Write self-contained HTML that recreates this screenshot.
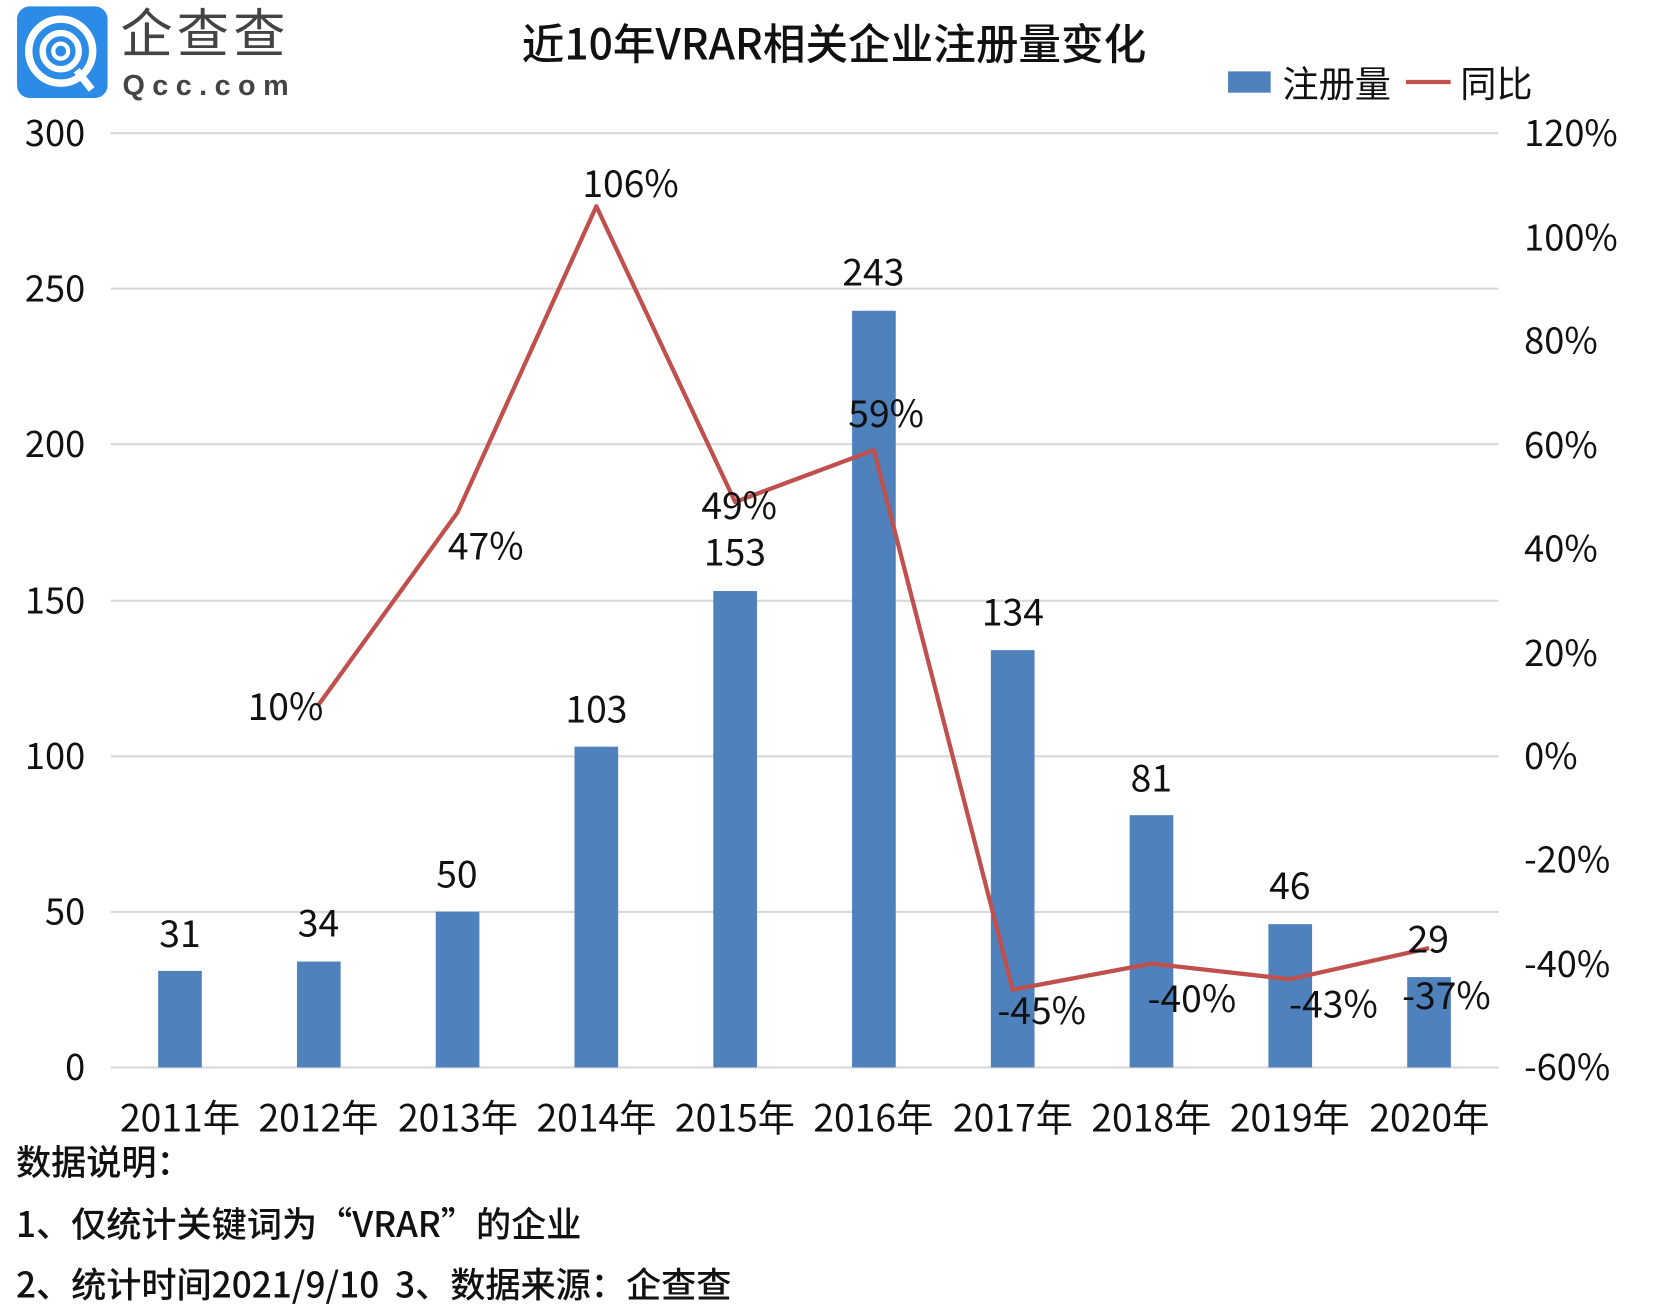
<!DOCTYPE html>
<html><head><meta charset="utf-8"><style>
html,body{margin:0;padding:0;background:#fff;}
svg{display:block;}
text{font-family:"Noto Sans CJK SC","Liberation Sans",sans-serif;fill:#111;}
</style></head><body>
<svg width="1669" height="1305" viewBox="0 0 1567 1225" preserveAspectRatio="none" xmlns="http://www.w3.org/2000/svg">
<rect x="16" y="6" width="85" height="86" rx="12" fill="#2b8be6"/>
<circle cx="57" cy="48" r="30" fill="none" stroke="#fff" stroke-width="7"/>
<circle cx="57" cy="48" r="17" fill="none" stroke="#fff" stroke-width="6"/>
<circle cx="57" cy="48" r="7" fill="none" stroke="#fff" stroke-width="4"/>
<line x1="72" y1="66" x2="86" y2="84" stroke="#fff" stroke-width="7"/>
<text x="113" y="49" font-size="49" style="fill:#444" letter-spacing="4">企查查</text>
<text x="115" y="89" font-size="27" font-weight="bold" style="fill:#444;font-family:'Liberation Sans',sans-serif" letter-spacing="7">Qcc.com</text>
<text x="783" y="56" font-size="40" text-anchor="middle" font-weight="500">近10年VRAR相关企业注册量变化</text>
<rect x="1153" y="67" width="40" height="20" fill="#4f81bd"/>
<text x="1204" y="91" font-size="34">注册量</text>
<line x1="1320" y1="77" x2="1362" y2="77" stroke="#c0504d" stroke-width="4"/>
<text x="1371" y="91" font-size="34">同比</text>
<g stroke="#d9d9d9" stroke-width="2">
<line x1="104" y1="125" x2="1407" y2="125"/>
<line x1="104" y1="271" x2="1407" y2="271"/>
<line x1="104" y1="417" x2="1407" y2="417"/>
<line x1="104" y1="564" x2="1407" y2="564"/>
<line x1="104" y1="710" x2="1407" y2="710"/>
<line x1="104" y1="856" x2="1407" y2="856"/>
<line x1="104" y1="1002" x2="1407" y2="1002"/>
</g>
<g font-size="34" text-anchor="end">
<text x="80" y="137">300</text><text x="80" y="283">250</text><text x="80" y="429">200</text>
<text x="80" y="576">150</text><text x="80" y="722">100</text><text x="80" y="868">50</text><text x="80" y="1014">0</text>
</g>
<g font-size="34">
<text x="1431" y="137">120%</text><text x="1431" y="235">100%</text><text x="1431" y="332">80%</text>
<text x="1431" y="430">60%</text><text x="1431" y="527">40%</text><text x="1431" y="625">20%</text>
<text x="1431" y="722">0%</text><text x="1431" y="819">-20%</text><text x="1431" y="917">-40%</text><text x="1431" y="1014">-60%</text>
</g>
<g fill="#4f81bd">
<rect x="148.5" y="911.4" width="41" height="90.6"/>
<rect x="278.8" y="902.6" width="41" height="99.4"/>
<rect x="409.1" y="855.8" width="41" height="146.2"/>
<rect x="539.4" y="700.9" width="41" height="301.1"/>
<rect x="669.7" y="554.8" width="41" height="447.2"/>
<rect x="800.0" y="291.7" width="41" height="710.3"/>
<rect x="930.3" y="610.3" width="41" height="391.7"/>
<rect x="1060.6" y="765.2" width="41" height="236.8"/>
<rect x="1190.9" y="867.5" width="41" height="134.5"/>
<rect x="1321.2" y="917.2" width="41" height="84.8"/>
</g>
<polyline fill="none" stroke="#c0504d" stroke-width="4" stroke-linejoin="round" points="299.3,661.3 429.6,481.0 559.9,193.6 690.2,471.2 820.5,422.5 950.8,929.0 1081.1,904.6 1211.4,919.2 1341.7,890.0"/>
<g font-size="35" text-anchor="middle">
<text x="169" y="889">31</text><text x="299" y="879">34</text><text x="429" y="833">50</text>
<text x="560" y="678">103</text><text x="690" y="531">153</text><text x="820" y="268">243</text>
<text x="951" y="587">134</text><text x="1081" y="743">81</text><text x="1211" y="844">46</text><text x="1341" y="894">29</text>
<text x="268" y="676">10%</text><text x="456" y="525">47%</text><text x="592" y="185">106%</text>
<text x="694" y="487">49%</text><text x="832" y="401">59%</text><text x="978" y="961">-45%</text>
<text x="1119" y="950">-40%</text><text x="1252" y="955">-43%</text><text x="1358" y="947">-37%</text>
</g>
<g font-size="35" text-anchor="middle">
<text x="169" y="1062">2011年</text><text x="299" y="1062">2012年</text><text x="430" y="1062">2013年</text>
<text x="560" y="1062">2014年</text><text x="690" y="1062">2015年</text><text x="820" y="1062">2016年</text>
<text x="951" y="1062">2017年</text><text x="1081" y="1062">2018年</text><text x="1211" y="1062">2019年</text><text x="1342" y="1062">2020年</text>
</g>
<g font-size="33" font-weight="500">
<text x="15" y="1103">数据说明：</text>
<text x="15" y="1161">1、仅统计关键词为“VRAR”的企业</text>
<text x="15" y="1218" xml:space="preserve">2、统计时间2021/9/10  3、数据来源：企查查</text>
</g>
</svg>
</body></html>
